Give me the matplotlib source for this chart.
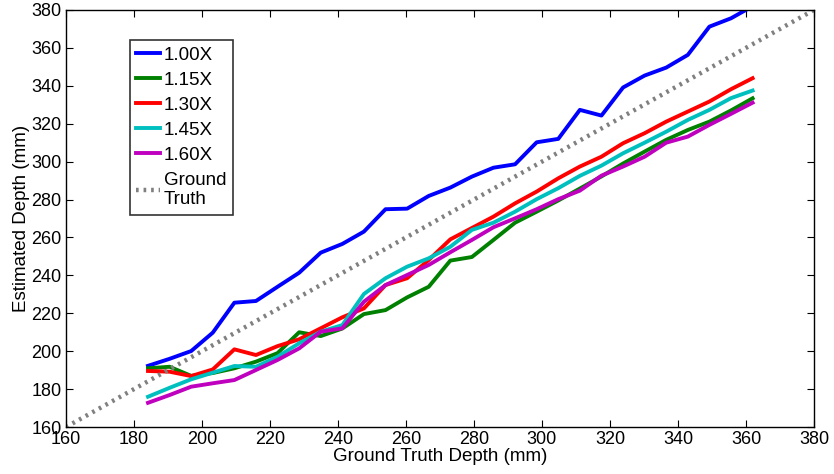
#!/usr/bin/env python3

import matplotlib
matplotlib.use("Agg")
import matplotlib.pyplot as plt

plt.rcParams["font.family"] = ["Liberation Sans", "DejaVu Sans"]

# ground truth depths (1/4 inch steps, in mm)
depth = [184.15, 190.5, 196.85, 203.2, 209.55, 215.9, 222.25, 228.6, 234.95,
         241.3, 247.65, 254.0, 260.35, 266.7, 273.05, 279.4, 285.75, 292.1,
         298.45, 304.8, 311.15, 317.5, 323.85, 330.2, 336.55, 342.9, 349.25,
         355.6, 361.95]

est_100 = [192.3, 196.0, 200.1, 209.8, 225.6, 226.5, 234.0, 241.4, 252.0,
           256.6, 263.1, 274.9, 275.2, 281.9, 286.3, 292.1, 296.8, 298.6,
           310.2, 312.0, 327.3, 324.3, 339.1, 345.4, 349.6, 356.3, 371.2,
           375.6, 382.0]
est_115 = [191.0, 191.8, 187.0, 188.5, 191.0, 194.5, 199.0, 210.0, 208.0,
           212.0, 219.6, 221.7, 228.4, 234.0, 247.8, 249.7, 258.7, 267.8,
           273.6, 279.5, 285.8, 292.2, 299.0, 305.3, 311.5, 316.7, 321.1,
           327.0, 333.4]
est_130 = [189.6, 189.2, 186.9, 190.4, 201.0, 198.0, 202.7, 206.3, 212.1,
           217.9, 222.6, 234.9, 238.5, 248.1, 259.0, 265.0, 271.0, 278.0,
           284.2, 291.2, 297.4, 302.6, 309.7, 315.0, 321.1, 326.4, 331.7,
           338.2, 344.0]
est_145 = [176.0, 180.7, 185.2, 188.7, 192.2, 191.8, 197.1, 204.2, 210.3,
           213.8, 230.2, 238.5, 244.6, 249.0, 255.1, 264.0, 267.8, 273.6,
           280.2, 286.0, 292.5, 297.9, 304.4, 310.0, 315.8, 322.0, 327.3,
           333.5, 337.5]
est_160 = [172.8, 176.9, 181.3, 183.1, 184.8, 190.1, 195.4, 201.5, 210.3,
           212.1, 226.1, 234.9, 240.2, 245.5, 252.2, 258.7, 265.4, 270.1,
           274.9, 280.2, 284.7, 292.6, 297.4, 302.6, 310.0, 313.2, 319.4,
           325.2, 331.1]

labels = ["1.00X", "1.15X", "1.30X", "1.45X", "1.60X"]
colors = ["#0000ff", "#008000", "#ff0000", "#00bfbf", "#bf00bf"]

fig = plt.figure(figsize=(8.34, 4.74), dpi=100)
ax = fig.add_axes([0.079, 0.099, 0.897, 0.88])

for est, lab, col in zip([est_100, est_115, est_130, est_145, est_160], labels, colors):
    ax.plot(depth, est, color=col, lw=2.8, label=lab)

ax.plot([160, 380], [160, 380], color="#808080", lw=3.2, ls=(0, (0.6, 1.1)),
        label="Ground\nTruth")

ax.set_xlim(160, 380)
ax.set_ylim(160, 380)
ax.set_xticks(range(160, 381, 20))
ax.set_yticks(range(160, 381, 20))
ax.tick_params(direction="in", top=True, right=True, length=5, labelsize=13,
               pad=3)
for s in ax.spines.values():
    s.set_linewidth(1.0)

ax.set_xlabel("Ground Truth Depth (mm)", fontsize=13.5, labelpad=0)
ax.set_ylabel("Estimated Depth (mm)", fontsize=13.5, labelpad=1)

leg = ax.legend(loc="upper left", bbox_to_anchor=(0.0856, 0.928), fontsize=13.5,
                frameon=True, fancybox=False, edgecolor="black",
                handlelength=1.25, handletextpad=0.2, borderpad=0.35,
                labelspacing=0.42, borderaxespad=0)
leg.get_frame().set_linewidth(1.2)

fig.savefig("out.png", dpi=100)
